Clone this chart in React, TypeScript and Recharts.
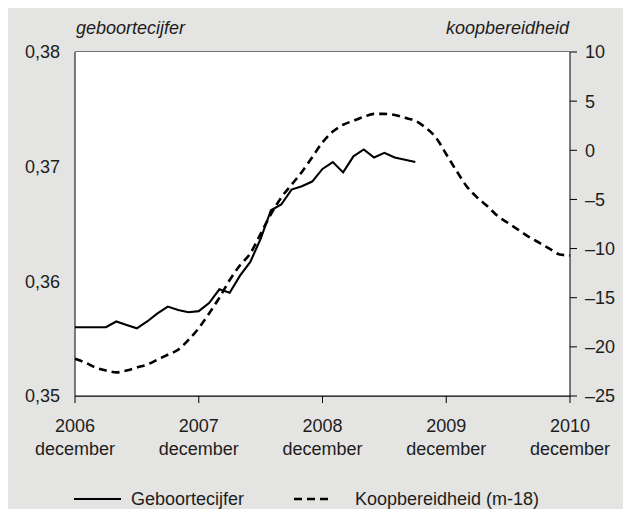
import { LineChart, Line, XAxis, YAxis, CartesianGrid } from "recharts";

// months from december 2006 (index 0) to december 2010 (index 48)
const yearLabels = ["2006", "2007", "2008", "2009", "2010"];
const monthLabel = "december";
const xTicks = [0, 12, 24, 36, 48];

const leftTicks = [0.35, 0.36, 0.37, 0.38];
const rightTicks = [-25, -20, -15, -10, -5, 0, 5, 10];

const geboortecijfer = [
  0.356, 0.356, 0.356, 0.356, 0.3565, 0.3562, 0.3559, 0.3565, 0.3572, 0.3578,
  0.3575, 0.3573, 0.3574, 0.3581, 0.3593, 0.359, 0.3605, 0.3617, 0.3637,
  0.3662, 0.3667, 0.368, 0.3683, 0.3687, 0.3698, 0.3704, 0.3695, 0.3709,
  0.3715, 0.3708, 0.3712, 0.3708, 0.3706, 0.3704,
];

const koopbereidheid = [
  -21.2, -21.6, -22.1, -22.4, -22.6, -22.4, -22.1, -21.8, -21.3, -20.8, -20.3,
  -19.3, -18.1, -16.6, -15.0, -13.2, -11.7, -10.5, -8.5, -6.5, -4.8, -3.5,
  -2.2, -0.7, 0.8, 1.9, 2.6, 3.0, 3.4, 3.7, 3.7, 3.6, 3.3, 3.0, 2.3, 1.3,
  -0.4, -2.1, -3.7, -4.8, -5.7, -6.7, -7.4, -8.1, -8.8, -9.4, -10.0, -10.6,
  -10.7,
];

const data = koopbereidheid.map((k, i) => ({
  m: i,
  geb: i < geboortecijfer.length ? geboortecijfer[i] : null,
  koop: k,
}));

const font = "'Liberation Sans', Arial, sans-serif";
const ink = "#1d1d1b";
const panel = "#e4e4e3";

function XTick(props: any) {
  const { x, y, payload } = props;
  const idx = xTicks.indexOf(payload.value);
  return (
    <g>
      <text x={x} y={y + 27} textAnchor="middle" fill={ink} fontSize={18} fontFamily={font}>
        {yearLabels[idx]}
      </text>
      <text x={x} y={y + 50} textAnchor="middle" fill={ink} fontSize={18} fontFamily={font}>
        {monthLabel}
      </text>
    </g>
  );
}

const fmtLeft = (v: number) => v.toFixed(2).replace(".", ",");
const fmtRight = (v: number) => (v < 0 ? "\u2013" + Math.abs(v) : String(v));

export default function App() {
  return (
    <div style={{ position: "relative", width: 631, height: 517, margin: -8, overflow: "hidden" }}>
      <svg width={631} height={7} style={{ position: "absolute", left: 0, top: 0 }}>
        <text x={10} y={1} fontSize={25} fontWeight="bold" fill={ink} fontFamily={font}>
          Relatie geboortecijfer en koopbereidheid
        </text>
      </svg>
      <div style={{ position: "absolute", left: 8, top: 7, width: 623, height: 510, background: panel }}>
        <LineChart
          width={623}
          height={510}
          data={data}
          margin={{ top: 45, right: 0, left: 0, bottom: 71 }}
        >
          <rect x={67} y={45} width={495} height={344} fill="#fff" />
          <CartesianGrid vertical={false} stroke="#000" strokeWidth={1} yAxisId="left" fill="#fff" />
          <XAxis
            dataKey="m"
            type="number"
            domain={[0, 48]}
            ticks={xTicks}
            interval={0}
            height={50}
            stroke="#000"
            tickSize={7}
            tickMargin={2}
            tick={<XTick />}
          />
          <YAxis
            yAxisId="left"
            orientation="left"
            domain={[0.35, 0.38]}
            ticks={leftTicks}
            interval={0}
            width={67}
            stroke="#000"
            tickLine={false}
            tickSize={7}
            tickMargin={8}
            tickFormatter={fmtLeft}
            tick={{ fill: ink, fontSize: 18, fontFamily: font }}
          />
          <YAxis
            yAxisId="right"
            orientation="right"
            domain={[-25, 10]}
            ticks={rightTicks}
            interval={0}
            width={61}
            stroke="#000"
            tickSize={7}
            tickMargin={8}
            tickFormatter={fmtRight}
            tick={{ fill: ink, fontSize: 18, fontFamily: font, textAnchor: "start" }}
          />
          <Line
            yAxisId="right"
            dataKey="koop"
            type="monotone"
            stroke="#000"
            strokeWidth={2.6}
            strokeDasharray="8 5"
            dot={false}
            isAnimationActive={false}
          />
          <Line
            yAxisId="left"
            dataKey="geb"
            type="linear"
            stroke="#000"
            strokeWidth={2.1}
            dot={false}
            isAnimationActive={false}
          />
        </LineChart>
      </div>
      <svg width={631} height={517} style={{ position: "absolute", left: 0, top: 0, pointerEvents: "none" }}>
        <g fontFamily={font} fontSize={18} fill={ink}>
          <text x={76} y={34} fontStyle="italic">geboortecijfer</text>
          <text x={569} y={34} fontStyle="italic" textAnchor="end">koopbereidheid</text>
          <line x1={74} x2={121} y1={499} y2={499} stroke="#000" strokeWidth={2.2} />
          <text x={131} y={505}>Geboortecijfer</text>
          <line x1={294} x2={328} y1={499} y2={499} stroke="#000" strokeWidth={2.6} strokeDasharray="8 5" />
          <text x={355} y={505}>Koopbereidheid (m-18)</text>
        </g>
      </svg>
    </div>
  );
}
